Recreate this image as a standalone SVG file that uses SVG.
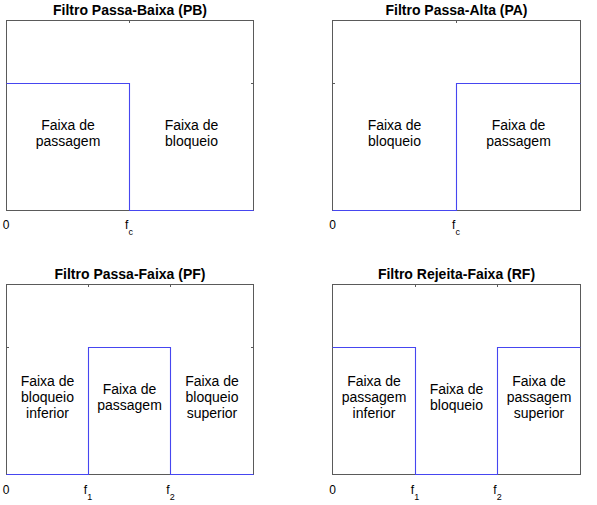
<svg xmlns="http://www.w3.org/2000/svg" width="597" height="505" viewBox="0 0 597 505">
<style>
text{font-family:"Liberation Sans",Arial,Helvetica,sans-serif;fill:#000}
.title{font-size:14px;font-weight:bold;text-anchor:middle}
.lbl{font-size:14px;text-anchor:middle}
.tick{font-size:12px;text-anchor:middle}
.sub{font-size:9px}
.axis{fill:none;stroke:#5a5a5a;stroke-width:1}
.tk{stroke:#5a5a5a;stroke-width:1}
.sig{fill:none;stroke:#4646f0;stroke-width:1.1}
</style>
<rect width="597" height="505" fill="#fff"/>

<g id="panel-pb">
<text class="title" x="130" y="14.5">Filtro Passa-Baixa (PB)</text>
<rect class="axis" x="6.5" y="20.5" width="247" height="190"/>
<path class="tk" d="M129.5 20.5v2.5M253.5 83.5h-2.5"/>
<path class="sig" d="M6.5 83.5H129.5V210.5H253.5"/>
<text class="lbl" x="68" y="130">Faixa de</text>
<text class="lbl" x="68" y="146">passagem</text>
<text class="lbl" x="191.5" y="130">Faixa de</text>
<text class="lbl" x="191.5" y="146">bloqueio</text>
<text class="tick" x="6" y="229">0</text>
<text class="tick" x="129" y="229">f<tspan class="sub" dy="6">c</tspan></text>
</g>

<g id="panel-pa">
<text class="title" x="456.5" y="14.5">Filtro Passa-Alta (PA)</text>
<rect class="axis" x="332.5" y="20.5" width="248" height="190"/>
<path class="tk" d="M456.5 20.5v2.5M332.5 83.5h2.5"/>
<path class="sig" d="M332.5 210.5H456.5V83.5H580.5"/>
<text class="lbl" x="394.5" y="130">Faixa de</text>
<text class="lbl" x="394.5" y="146">bloqueio</text>
<text class="lbl" x="518.5" y="130">Faixa de</text>
<text class="lbl" x="518.5" y="146">passagem</text>
<text class="tick" x="332.5" y="229">0</text>
<text class="tick" x="456" y="229">f<tspan class="sub" dy="6">c</tspan></text>
</g>

<g id="panel-pf">
<text class="title" x="130" y="279">Filtro Passa-Faixa (PF)</text>
<rect class="axis" x="6.5" y="284.5" width="247" height="190"/>
<path class="tk" d="M88.5 284.5v2.5M170.5 284.5v2.5M6.5 347.5h2.5M253.5 347.5h-2.5"/>
<path class="sig" d="M6.5 474.5H88.5V347.5H170.5V474.5H253.5"/>
<text class="lbl" x="47.5" y="385.5">Faixa de</text>
<text class="lbl" x="47.5" y="401.5">bloqueio</text>
<text class="lbl" x="47.5" y="417.5">inferior</text>
<text class="lbl" x="129.5" y="394">Faixa de</text>
<text class="lbl" x="129.5" y="410">passagem</text>
<text class="lbl" x="212" y="385.5">Faixa de</text>
<text class="lbl" x="212" y="401.5">bloqueio</text>
<text class="lbl" x="212" y="417.5">superior</text>
<text class="tick" x="6" y="494">0</text>
<text class="tick" x="88" y="494">f<tspan class="sub" dy="5.5">1</tspan></text>
<text class="tick" x="170.5" y="494">f<tspan class="sub" dy="5.5">2</tspan></text>
</g>

<g id="panel-rf">
<text class="title" x="456.5" y="279">Filtro Rejeita-Faixa (RF)</text>
<rect class="axis" x="332.5" y="284.5" width="248" height="190"/>
<path class="tk" d="M415.5 284.5v2.5M497.5 284.5v2.5"/>
<path class="sig" d="M332.5 347.5H415.5V474.5H497.5V347.5H580.5"/>
<text class="lbl" x="374" y="385.5">Faixa de</text>
<text class="lbl" x="374" y="401.5">passagem</text>
<text class="lbl" x="374" y="417.5">inferior</text>
<text class="lbl" x="456.5" y="394">Faixa de</text>
<text class="lbl" x="456.5" y="410">bloqueio</text>
<text class="lbl" x="539" y="385.5">Faixa de</text>
<text class="lbl" x="539" y="401.5">passagem</text>
<text class="lbl" x="539" y="417.5">superior</text>
<text class="tick" x="332.5" y="494">0</text>
<text class="tick" x="415" y="494">f<tspan class="sub" dy="5.5">1</tspan></text>
<text class="tick" x="497.5" y="494">f<tspan class="sub" dy="5.5">2</tspan></text>
</g>
</svg>
